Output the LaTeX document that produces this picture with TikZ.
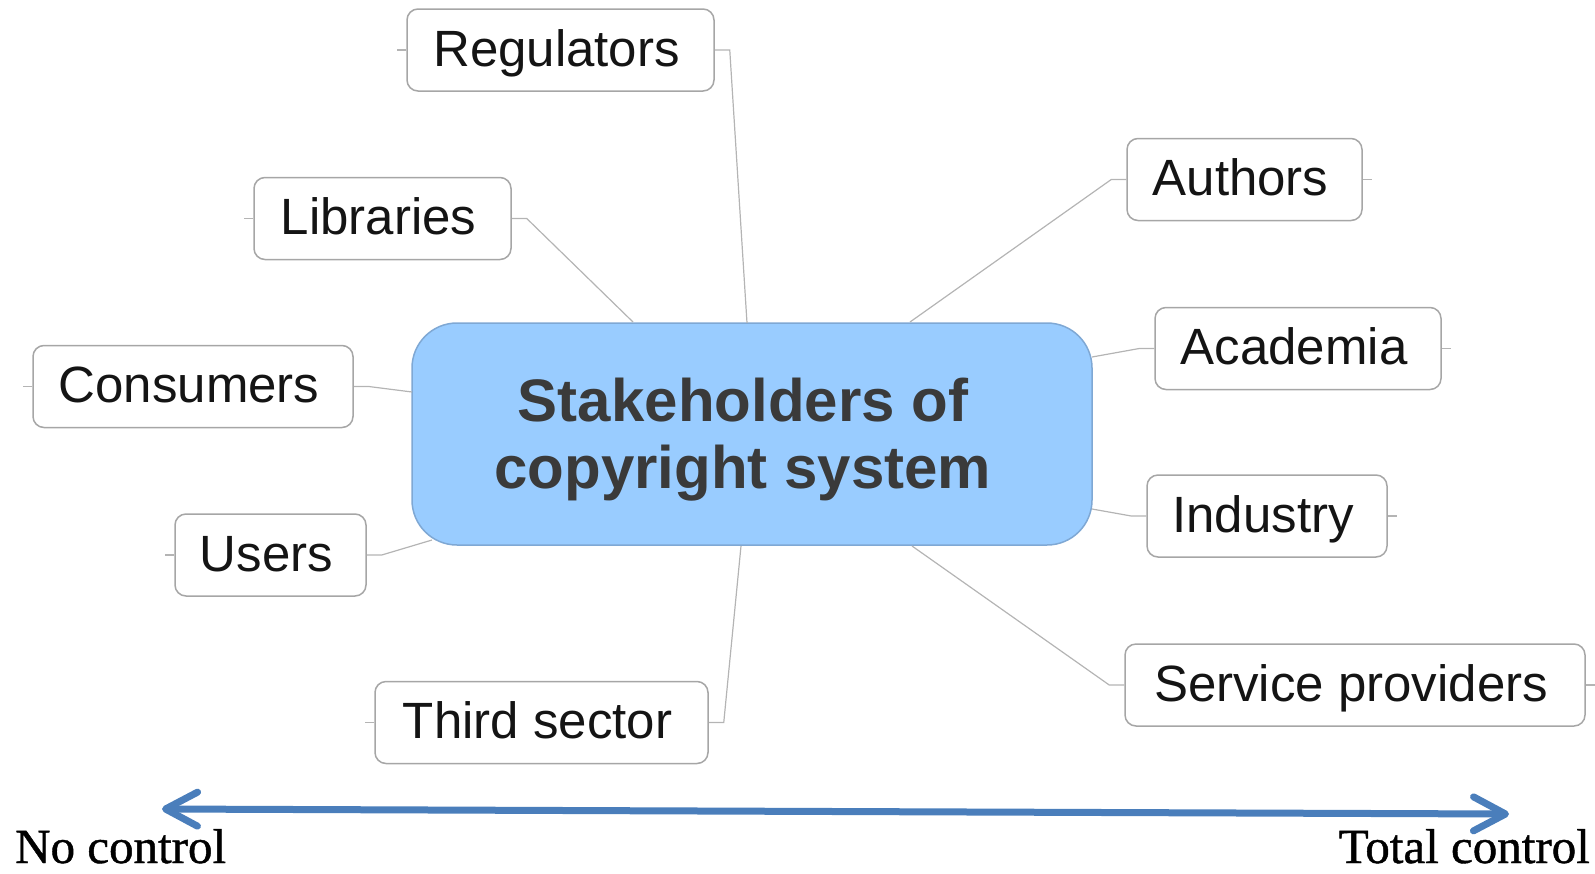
\documentclass[tikz,border=0pt]{standalone}
\usepackage{fontspec}
\setmainfont{Liberation Serif}
\setsansfont{Liberation Sans}
\newfontfamily\labelserif[FakeBold=0.9]{Liberation Serif}
\usetikzlibrary{arrows.meta}
\definecolor{boxline}{HTML}{A6A6A6}
\definecolor{conn}{HTML}{B4B4B4}
\definecolor{hubfill}{HTML}{99CCFF}
\definecolor{hubline}{HTML}{7FA8D4}
\definecolor{hubtext}{HTML}{3A3A3A}
\definecolor{arrowblue}{HTML}{4A7EBB}
\tikzset{
  leaf/.style={draw=boxline, line width=1.5pt, fill=white, rounded corners=11pt,
    inner sep=0pt, minimum height=82pt,
    font=\sffamily\fontsize{51}{60}\selectfont, text=black!92,
    text height=39pt, text depth=7pt,
    execute at begin node=\hspace*{-8pt}},
  hub/.style={draw=hubline, line width=1.5pt, fill=hubfill, rounded corners=45pt,
    minimum width=680pt, minimum height=222pt, inner sep=0pt},
  hubtxt/.style={inner sep=0pt, align=center,
    font=\sffamily\bfseries\fontsize{60}{67}\selectfont, text=hubtext},
  link/.style={draw=conn, line width=1.2pt},
  ctrlarrow/.style={draw=arrowblue, line width=7pt,
    {Straight Barb[length=32pt,width=34pt,round]}-{Straight Barb[length=32pt,width=34pt,round]}},
  endlabel/.style={font=\labelserif\fontsize{49}{58}\selectfont, text=black, inner sep=0pt}
}
\begin{document}
\begin{tikzpicture}[x=1pt,y=-1pt]
\useasboundingbox (0,0) rectangle (1595,873);
% hub
\node[hub] (c) at (752,434) {};
\node[hubtxt] (ct) at (743,440) {Stakeholders of\\copyright system};
% leaves
\node[leaf, minimum width=307pt] (reg) at (560.5,50) {Regulators};
\node[leaf, minimum width=257pt] (lib) at (382.5,218.5) {Libraries};
\node[leaf, minimum width=320pt] (con) at (193,386.5) {Consumers};
\node[leaf, minimum width=191pt] (use) at (270.5,555) {Users};
\node[leaf, minimum width=333pt] (thi) at (541.5,722.5) {Third sector};
\node[leaf, minimum width=235pt] (aut) at (1244.5,179.5) {Authors};
\node[leaf, minimum width=286pt] (aca) at (1298,348.5) {Academia};
\node[leaf, minimum width=240pt] (ind) at (1267,516) {Industry};
\node[leaf, minimum width=460pt] (ser) at (1355,685) {Service providers};
% attachment points on the hub
\coordinate (pReg) at (747,323);
\coordinate (pLib) at (633,322);
\coordinate (pCon) at (412,392);
\coordinate (pUse) at (432,540);
\coordinate (pThi) at (741,546);
\coordinate (pAut) at (910,322);
\coordinate (pAca) at (1092,357);
\coordinate (pInd) at (1092,509);
\coordinate (pSer) at (912,546);
% connectors
\draw[link] (reg.east) -- ++(15,0) -- (pReg);
\draw[link] (lib.east) -- ++(15,0) -- (pLib);
\draw[link] (con.east) -- ++(15,0) -- (pCon);
\draw[link] (use.east) -- ++(15,0) -- (pUse);
\draw[link] (thi.east) -- ++(15,0) -- (pThi);
\draw[link] (aut.west) -- ++(-15,0) -- (pAut);
\draw[link] (aca.west) -- ++(-15,0) -- (pAca);
\draw[link] (ind.west) -- ++(-15,0) -- (pInd);
\draw[link] (ser.west) -- ++(-15,0) -- (pSer);
% outer stubs
\draw[link] (reg.west) -- ++(-9,0);
\draw[link] (lib.west) -- ++(-9,0);
\draw[link] (con.west) -- ++(-9,0);
\draw[link] (use.west) -- ++(-9,0);
\draw[link] (thi.west) -- ++(-9,0);
\draw[link] (aut.east) -- ++(9,0);
\draw[link] (aca.east) -- ++(9,0);
\draw[link] (ind.east) -- ++(9,0);
\draw[link] (ser.east) -- ++(9,0);
% control scale
\coordinate (aL) at (162,809);
\coordinate (aR) at (1509,814);
\draw[ctrlarrow] (aL) -- (aR);
\node[endlabel, anchor=base west] (noc) at (15,863) {No control};
\node[endlabel, anchor=base east] (tot) at (1590,863) {Total control};
\end{tikzpicture}
\end{document}
